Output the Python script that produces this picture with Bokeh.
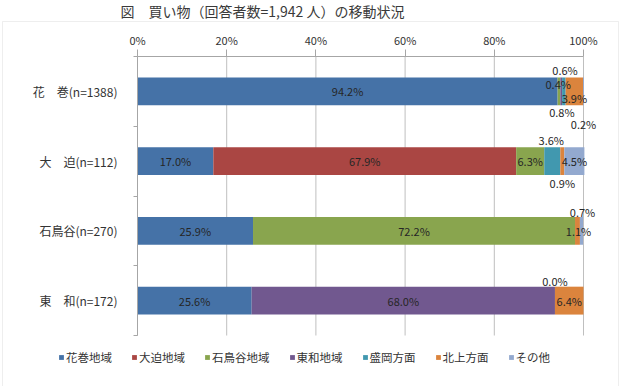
from bokeh.plotting import figure
from bokeh.models import (ColumnDataSource, FixedTicker, Range1d, Legend, LegendItem,
                          BoxAnnotation, Label)
from bokeh.embed import file_html
from bokeh.resources import INLINE
from bokeh.core.properties import value

# Residence areas (top to bottom) and shopping destinations
areas = ["花　巻(n=1388)", "大　迫(n=112)", "石鳥谷(n=270)", "東　和(n=172)"]
series = ["花巻地域", "大迫地域", "石鳥谷地域", "東和地域", "盛岡方面", "北上方面", "その他"]

# Share (%) of each destination, one list per residence area
hanamaki = [94.2, 0.0, 0.6, 0.4, 0.8, 3.9, 0.2]
ohasama = [17.0, 67.9, 6.3, 0.0, 3.6, 0.9, 4.5]
ishidoriya = [25.9, 0.0, 72.2, 0.0, 0.0, 1.1, 0.7]
towa = [25.6, 0.0, 0.0, 68.0, 0.0, 6.4, 0.0]

x_ticks = [0, 20, 40, 60, 80, 100]
x_tick_labels = ["0%", "20%", "40%", "60%", "80%", "100%"]

colors = ["#4572A7", "#AA4643", "#89A54E", "#71588F", "#4198AF", "#DB843D", "#93A9CF"]
FONT = "Noto Sans CJK JP"

W, H = 621, 386
# pixel box of the bar area inside the canvas
AX_L, AX_R, AX_T, AX_B = 137, 583, 56, 335

rows = [hanamaki, ohasama, ishidoriya, towa]
n = len(areas)
ypos = [n - 1 - i for i in range(n)]          # first area drawn at the top

# the frame spans the whole canvas; ranges are widened so the bar area lands on its box
kx = (AX_R - AX_L) / 100.0
ky = (AX_B - AX_T) / n
x0 = -AX_L / kx
x1 = 100 + (W - AX_R) / kx
y1 = (n - 0.5) + AX_T / ky
y0 = -0.5 - (H - AX_B) / ky


def px_x(px):
    return x0 + px / kx


def px_y(py):
    return y1 - py / ky


data = {"y": ypos}
keys = [f"s{j}" for j in range(len(series))]
for j, k in enumerate(keys):
    data[k] = [row[j] for row in rows]
source = ColumnDataSource(data)

# pixel nudges for labels of thin segments, keyed by (area, destination)
nudges = {
    (0, 2): (6, -21), (0, 3): (-3, -7), (0, 4): (-2, 21), (0, 5): (0, 7), (0, 6): (0, 33),
    (1, 4): (-1, -21), (1, 5): (0, 22),
    (2, 5): (1, 0), (2, 6): (1, -19),
    (3, 4): (0, -20),
}

p = figure(width=W, height=H, output_backend="svg", toolbar_location=None,
           x_range=Range1d(x0, x1), y_range=Range1d(y0, y1),
           x_axis_location="above", min_border=0)
p.outline_line_color = None
p.background_fill_color = "white"
p.border_fill_color = "white"

# outer chart-area box
p.add_layout(BoxAnnotation(left=px_x(2), right=px_x(618), top=px_y(21), bottom=px_y(H + 5),
                           fill_alpha=0, line_color="#c6c6c6", line_width=1, level="underlay"))

# vertical gridlines over the bar area only
p.segment(x0=x_ticks, y0=[-0.5] * len(x_ticks), x1=x_ticks, y1=[n - 0.5] * len(x_ticks),
          line_color="#bfbfbf", line_width=1, level="underlay")

renderers = p.hbar_stack(keys, y="y", height=0.4, color=colors, line_color=None, source=source)

# data labels
lx, ly, lt, dx, dy = [], [], [], [], []
for i, row in enumerate(rows):
    cum = 0.0
    for j, v in enumerate(row):
        if v > 0 or (i, j) in nudges:
            ox, oy = nudges.get((i, j), (0, 0))
            lx.append(cum + v / 2)
            ly.append(ypos[i])
            lt.append(f"{v:.1f}%")
            dx.append(ox)
            dy.append(oy)
        cum += v
p.text(x=lx, y=ly, text=lt, x_offset=dx, y_offset=dy, text_align="center",
       text_baseline="middle", text_font=value(FONT), text_font_size="11px",
       text_color="#262626")

# top percentage axis, pinned to the top of the bar area
xa = p.xaxis[0]
xa.fixed_location = n - 0.5
xa.bounds = (0, 100)
xa.ticker = FixedTicker(ticks=x_ticks, minor_ticks=[])
xa.major_label_overrides = {t: s for t, s in zip(x_ticks, x_tick_labels)}
xa.axis_line_color = "#a6a6a6"
xa.major_tick_line_color = "#a6a6a6"
xa.major_tick_out = 7
xa.major_tick_in = 0
xa.major_label_standoff = 2
xa.major_label_text_font = FONT
xa.major_label_text_font_size = "11px"
xa.major_label_text_color = "#333333"

# left category axis pinned at 0%, ticks marking band boundaries
ya = p.yaxis[0]
ya.fixed_location = 0
ya.bounds = (-0.5, n - 0.5)
ya.ticker = FixedTicker(ticks=ypos, minor_ticks=[k - 0.5 for k in range(n + 1)])
ya.major_label_overrides = {y: a for y, a in zip(ypos, areas)}
ya.axis_line_color = "#a6a6a6"
ya.major_tick_line_color = None
ya.major_tick_out = 0
ya.major_tick_in = 0
ya.minor_tick_line_color = "#a6a6a6"
ya.minor_tick_out = 4
ya.minor_tick_in = 0
ya.major_label_standoff = 16
ya.major_label_text_font = FONT
ya.major_label_text_font_size = "12px"
ya.major_label_text_color = "#333333"

p.xgrid.visible = False
p.ygrid.visible = False

# legend row under the bar area (position in pixels from the lower-left corner)
legend = Legend(items=[LegendItem(label=s, renderers=[r]) for s, r in zip(series, renderers)],
                orientation="horizontal", location=(58, 21))
legend.glyph_width = 6
legend.glyph_height = 6
legend.label_standoff = 2
legend.spacing = 19
legend.padding = 0
legend.margin = 0
legend.border_line_color = None
legend.background_fill_alpha = 0
legend.label_text_font = FONT
legend.label_text_font_size = "11.5px"
legend.label_text_color = "#333333"
p.add_layout(legend)

p.add_layout(Label(x=px_x(120), y=px_y(10), text="図　買い物（回答者数=1,942 人）の移動状況",
                   text_font=FONT, text_font_size="14px", text_color="#3a3a3a",
                   text_baseline="middle", text_align="left"))

open("out.html", "w").write(file_html(p, INLINE))
